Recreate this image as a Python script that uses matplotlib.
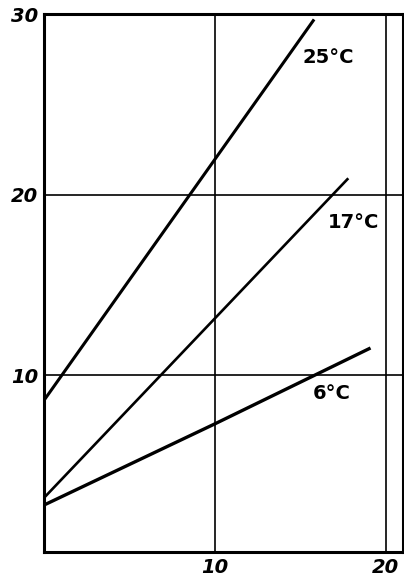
import matplotlib
matplotlib.use("Agg")
import matplotlib.pyplot as plt

# straight lines: (x start, y start), (x end, y end)
x_25 = [0, 15.8]
y_25 = [8.6, 29.7]
x_17 = [0, 17.8]
y_17 = [3.2, 20.9]
x_6 = [0, 10, 19.1]
y_6 = [2.8, 7.3, 11.5]

labels = ["25°C", "17°C", "6°C"]
label_pos = [(15.1, 27.6), (16.6, 18.45), (15.7, 9.0)]

xticks = [10, 20]
yticks = [10, 20, 30]

fig = plt.figure(figsize=(4.04, 5.77), dpi=100)
ax = fig.add_axes([44 / 404, 25 / 577, 359 / 404, 538 / 577])

for v in xticks:
    ax.axvline(v, color="black", lw=1.2)
for v in yticks[:-1]:
    ax.axhline(v, color="black", lw=1.2)

ax.plot(x_25, y_25, color="black", lw=2.2, solid_capstyle="butt")
ax.plot(x_17, y_17, color="black", lw=1.9, solid_capstyle="butt")
ax.plot(x_6, y_6, color="black", lw=2.4, solid_capstyle="butt")

for txt, (x, y) in zip(labels, label_pos):
    ax.text(x, y, txt, fontsize=14, fontweight="bold", ha="left", va="center")

ax.set_xlim(0, 21.0)
ax.set_ylim(0.2, 30)
ax.set_xticks(xticks)
ax.set_yticks(yticks)
ax.set_xticklabels([str(t) for t in xticks], fontsize=14, fontstyle="italic", fontweight="bold")
ax.set_yticklabels([str(t) for t in yticks], fontsize=14, fontstyle="italic", fontweight="bold")
ax.tick_params(axis="x", length=0, pad=4)
ax.tick_params(axis="y", length=0, pad=4)
for s in ax.spines.values():
    s.set_linewidth(2.2)

fig.savefig("out.png", dpi=100)
